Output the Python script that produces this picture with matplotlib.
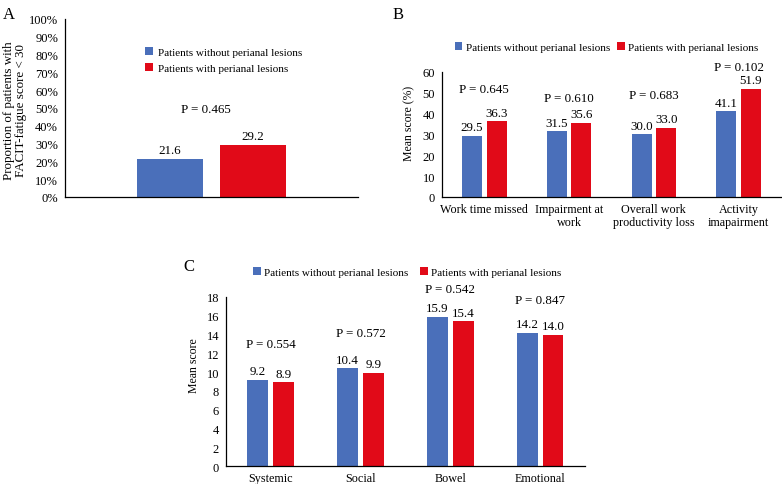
import matplotlib.pyplot as plt
import numpy as np

plt.rcParams['font.family'] = ['Liberation Serif', 'DejaVu Serif']

# Colores y nombres de series
azul = "#4A6FBA"
rojo = "#E10A18"
series = ["Patients without perianal lesions", "Patients with perianal lesions"]

# Panel A
a_sin = [21.6]
a_con = [29.2]
a_p = ["P = 0.465"]
a_p_y = [49.5]

# Panel B
b_cats = ["Work time missed", "Impairment at\nwork", "Overall work\nproductivity loss", "Activity\nimapairment"]
b_sin = [29.5, 31.5, 30.0, 41.1]
b_con = [36.3, 35.6, 33.0, 51.9]
b_p = ["P = 0.645", "P = 0.610", "P = 0.683", "P = 0.102"]
b_p_y = [51.8, 47.5, 49.0, 62.4]

# Panel C
c_cats = ["Systemic", "Social", "Bowel", "Emotional"]
c_sin = [9.2, 10.4, 15.9, 14.2]
c_con = [8.9, 9.9, 15.4, 14.0]
c_p = ["P = 0.554", "P = 0.572", "P = 0.542", "P = 0.847"]
c_p_y = [13.0, 14.2, 18.85, 17.7]


def limpiar_ejes(ax):
    for lado in ["top", "right"]:
        ax.spines[lado].set_visible(False)
    ax.spines["left"].set_linewidth(0.9)
    ax.spines["bottom"].set_linewidth(0.9)
    ax.tick_params(axis="y", length=0, labelsize=9, pad=5)
    ax.tick_params(axis="x", length=0, labelsize=8.7, pad=4)


def barras(ax, sin, con, ancho, desp, fmt="{:.1f}"):
    x = np.arange(len(sin))
    b1 = ax.bar(x - desp, sin, ancho, color=azul, label=series[0])
    b2 = ax.bar(x + desp, con, ancho, color=rojo, label=series[1])
    for rect, v in zip(list(b1) + list(b2), list(sin) + list(con)):
        ax.annotate(fmt.format(v), (rect.get_x() + rect.get_width() / 2, v),
                    xytext=(0, 2), textcoords="offset points",
                    ha="center", va="bottom", fontsize=9.4)
    return x


fig = plt.figure(figsize=(7.82, 4.85), dpi=100)

# ---- A ----
axA = fig.add_axes([0.0831, 0.5918, 0.3747, 0.367])
x = barras(axA, a_sin, a_con, 0.225, 0.142)
axA.set_xlim(-0.5, 0.5)
axA.set_ylim(0, 100)
axA.set_yticks(range(0, 101, 10))
axA.set_yticklabels([f"{v}%" for v in range(0, 101, 10)])
axA.set_xticks([])
for xi, t, y in zip(x, a_p, a_p_y):
    axA.text(xi - 0.02, y, t, ha="center", va="center", fontsize=9.4)
axA.set_ylabel("Proportion of patients with\nFACIT-fatigue score < 30", fontsize=9.4, linespacing=1.0)
axA.yaxis.set_label_coords(-0.128, 0.49)
axA.legend(loc="upper left", bbox_to_anchor=(0.24, 0.9), frameon=False, fontsize=8,
           handlelength=0.7, handleheight=0.7, handletextpad=0.4, labelspacing=0.6)
limpiar_ejes(axA)
fig.text(0.003, 0.985, "A", fontsize=12, va="top")

# ---- B ----
axB = fig.add_axes([0.5652, 0.5918, 0.4335, 0.2577])
x = barras(axB, b_sin, b_con, 0.235, 0.145)
axB.set_xlim(-0.5, 3.5)
axB.set_ylim(0, 60)
axB.set_yticks(range(0, 61, 10))
axB.set_xticks(x)
axB.set_xticklabels(b_cats, linespacing=1.15)
for xi, t, y in zip(x, b_p, b_p_y):
    axB.text(xi, y, t, ha="center", va="center", fontsize=9.4)
axB.set_ylabel("Mean score (%)", fontsize=8.5)
axB.yaxis.set_label_coords(-0.079, 0.6)
axB.legend(loc="center", bbox_to_anchor=(0.485, 1.2), ncol=2, frameon=False, fontsize=8,
           handlelength=0.7, handleheight=0.7, handletextpad=0.3, columnspacing=0.6)
limpiar_ejes(axB)
fig.text(0.502, 0.985, "B", fontsize=12, va="top")

# ---- C ----
axC = fig.add_axes([0.289, 0.0371, 0.459, 0.3485])
x = barras(axC, c_sin, c_con, 0.233, 0.144)
axC.set_xlim(-0.5, 3.5)
axC.set_ylim(0, 18)
axC.set_yticks(range(0, 19, 2))
axC.set_xticks(x)
axC.set_xticklabels(c_cats)
for xi, t, y in zip(x, c_p, c_p_y):
    axC.text(xi, y, t, ha="center", va="center", fontsize=9.4)
axC.set_ylabel("Mean score", fontsize=8.5)
axC.yaxis.set_label_coords(-0.072, 0.6)
axC.legend(loc="center", bbox_to_anchor=(0.505, 1.148), ncol=2, frameon=False, fontsize=8,
           handlelength=0.7, handleheight=0.7, handletextpad=0.3, columnspacing=1.0)
limpiar_ejes(axC)
fig.text(0.234, 0.465, "C", fontsize=12, va="top")

fig.savefig("out.png", dpi=100)
